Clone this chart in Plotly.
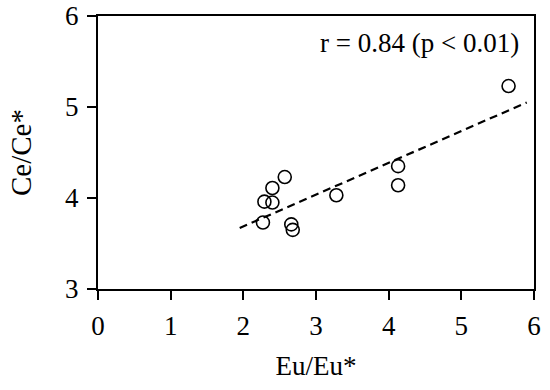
import plotly.graph_objects as go

# sample ratios
eu_ratio = [2.27, 2.29, 2.40, 2.40, 2.57, 2.66, 2.68, 3.28, 4.13, 4.13, 5.65]
ce_ratio = [3.73, 3.96, 3.95, 4.11, 4.23, 3.71, 3.65, 4.03, 4.35, 4.14, 5.23]

# regression line end points
fit_x = [1.95, 5.9]
fit_y = [3.67, 5.05]

x_ticks = [0, 1, 2, 3, 4, 5, 6]
y_ticks = [3, 4, 5, 6]

font = "Liberation Serif"

fig = go.Figure()
fig.add_trace(go.Scatter(x=fit_x, y=fit_y, mode="lines",
                         line=dict(color="black", width=2.2, dash="8px,5px")))
fig.add_trace(go.Scatter(x=eu_ratio, y=ce_ratio, mode="markers",
                         marker=dict(symbol="circle-open", size=13,
                                     color="black", line=dict(width=1.6))))

fig.add_annotation(x=1, y=0.9, xref="paper", yref="paper",
                   xanchor="right", yanchor="middle", showarrow=False,
                   text="r = 0.84 (p < 0.01)",
                   font=dict(family=font, size=27, color="black"),
                   xshift=-13)

axis_style = dict(showgrid=False, zeroline=False, showline=True, mirror=True,
                  linecolor="black", linewidth=2, ticks="outside",
                  ticklen=9, tickwidth=1.5, tickcolor="black", automargin=False,
                  ticklabeloverflow="allow", ticklabelstandoff=3,
                  tickfont=dict(family=font, size=27, color="black"))

fig.update_xaxes(range=[0, 6], tickvals=x_ticks,
                 title=dict(text="Eu/Eu*", font=dict(family=font, size=27),
                            standoff=16),
                 **axis_style)
fig.update_yaxes(range=[3, 6], tickvals=y_ticks,
                 title=dict(text="Ce/Ce*", font=dict(family=font, size=29),
                            standoff=25),
                 **axis_style)

fig.update_layout(
    width=550, height=390,
    margin=dict(l=98, r=16, t=16, b=101),
    plot_bgcolor="white", paper_bgcolor="white",
    showlegend=False,
    font=dict(family=font, color="black"),
)

fig.write_html("out.html", config={"displayModeBar": False},
               post_script="document.body.style.margin='0';")
